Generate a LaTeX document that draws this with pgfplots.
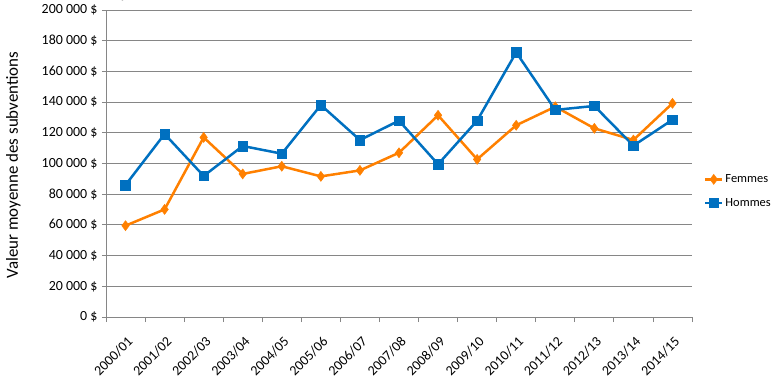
\documentclass[border=0pt]{standalone}
\usepackage{fontspec}
\setmainfont{Carlito}
\usepackage{pgfplots}
\pgfplotsset{compat=1.18}
\definecolor{fem}{RGB}{255,128,0}
\definecolor{hom}{RGB}{0,112,192}
\definecolor{gridc}{RGB}{134,134,134}
\begin{document}
\begin{tikzpicture}
\begin{axis}[name=ax, scale only axis, width=586bp, height=307bp,
 xmin=-0.5, xmax=14.5, ymin=0, ymax=200000,
 axis x line=bottom, axis y line=left,
 axis line style={gridc, line width=0.8bp, -},
 ytick={0,20000,40000,60000,80000,100000,120000,140000,160000,180000,200000},
 yticklabels={0 \$,20 000 \$,40 000 \$,60 000 \$,80 000 \$,100 000 \$,120 000 \$,140 000 \$,160 000 \$,180 000 \$,200 000 \$},
 ymajorgrids, grid style={gridc, line width=0.8bp},
 xtick={0,1,2,3,4,5,6,7,8,9,10,11,12,13,14},
 xticklabels={2000/01,2001/02,2002/03,2003/04,2004/05,2005/06,2006/07,2007/08,2008/09,2009/10,2010/11,2011/12,2012/13,2013/14,2014/15},
 minor xtick={-0.5,0.5,1.5,2.5,3.5,4.5,5.5,6.5,7.5,8.5,9.5,10.5,11.5,12.5,13.5,14.5},
 tick align=outside, major tick length=4bp, minor tick length=5bp,
 tick style={gridc, line width=0.8bp},
 major x tick style={draw=none},
 ticklabel style={font=\fontsize{14}{16}\selectfont},
 yticklabel style={xshift=-1bp},
 xticklabel style={xshift=1bp, yshift=-13bp, rotate=45, anchor=north east, inner sep=1bp},
 every axis y label/.style={at={(axis description cs:-0.158,0.495)}, rotate=90, anchor=center, font=\fontsize{17}{19}\selectfont},
 ylabel={Valeur moyenne des subventions},
 legend style={at={(1.015,0.41)}, anchor=west, draw=none, fill=none, font=\fontsize{12.5}{14}\selectfont, row sep=10bp},
 legend cell align=left,
]
\addplot[fem, line width=2.5bp, mark=diamond*, mark size=5bp, mark options={solid, line width=0.5bp}] coordinates {
(0,59500) (1,70100) (2,117000) (3,93200) (4,98200) (5,91600) (6,95500) (7,107000) (8,131400) (9,102700) (10,124900) (11,137000) (12,122900) (13,115300) (14,139200)};
\addlegendentry{Femmes}
\addplot[hom, line width=2.5bp, mark=square*, mark size=4.8bp, mark options={solid, line width=0.5bp}] coordinates {
(0,86000) (1,119200) (2,91900) (3,111400) (4,106400) (5,138100) (6,115300) (7,127900) (8,99500) (9,127900) (10,172400) (11,134900) (12,137500) (13,111600) (14,128500)};
\addlegendentry{Hommes}
\end{axis}
\pgfresetboundingbox
\path ([shift={(-106bp,-67bp)}]ax.south west) rectangle ([shift={(91bp,10bp)}]ax.north east);
\end{tikzpicture}
\end{document}
